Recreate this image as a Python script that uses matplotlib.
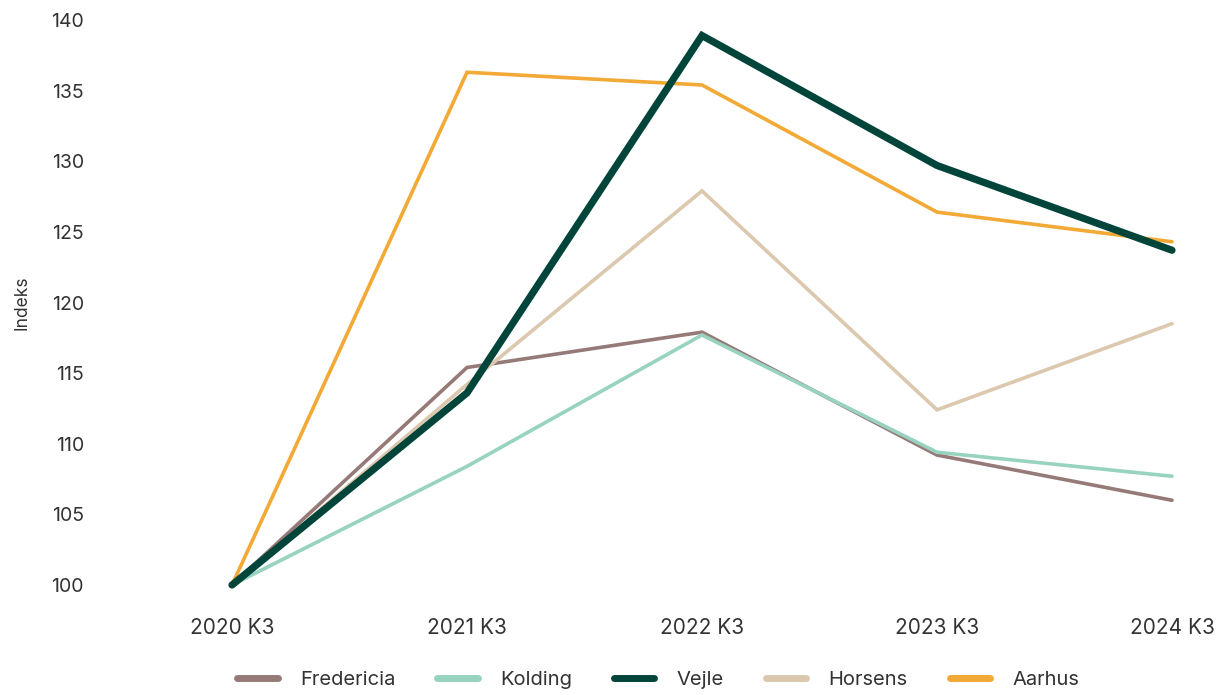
import matplotlib
matplotlib.use("Agg")
import matplotlib.pyplot as plt

categories = ["2020 K3", "2021 K3", "2022 K3", "2023 K3", "2024 K3"]
fredericia = [100, 115.4, 117.9, 109.2, 106.0]
kolding = [100, 108.4, 117.7, 109.4, 107.7]
vejle = [100, 113.6, 138.9, 129.7, 123.7]
horsens = [100, 114.2, 127.9, 112.4, 118.5]
aarhus = [100, 136.3, 135.4, 126.4, 124.3]
yticks = [100, 105, 110, 115, 120, 125, 130, 135, 140]

series = [
    ("Fredericia", fredericia, "#967a78", 2.6),
    ("Kolding", kolding, "#98d3c0", 2.6),
    ("Vejle", vejle, "#00443a", 5.2),
    ("Horsens", horsens, "#dbc8ae", 2.6),
    ("Aarhus", aarhus, "#f2a935", 2.6),
]

plt.rcParams['font.family'] = ['Inter', 'DejaVu Sans']
fig = plt.figure(figsize=(12.26, 6.95), dpi=100)
ax = fig.add_axes([120/1226, 1-585/695, 1080/1226, 565/695])

x = list(range(len(categories)))
zorders = {"Vejle": 5, "Aarhus": 4}
for name, vals, col, lw in series:
    ax.plot(x, vals, color=col, lw=lw, label=name, solid_capstyle="round",
            solid_joinstyle="miter", clip_on=False, zorder=zorders.get(name, 3))

ax.set_xlim(-112/235, 968/235)
ax.set_ylim(100, 140)
ax.set_yticks(yticks)
ax.set_xticks(x)
ax.set_xticklabels(categories)
for s in ax.spines.values():
    s.set_visible(False)
ax.tick_params(length=0, colors="#333333")
ax.tick_params(axis="y", pad=26, labelsize=14)
ax.tick_params(axis="x", pad=24, labelsize=15)
ax.set_ylabel("Indeks", fontsize=12.5, color="#333333")
ax.yaxis.set_label_coords(-0.083, 0.5)

leg = fig.legend(loc="lower center", bbox_to_anchor=(0.537, -0.018), ncol=5, frameon=False,
                 fontsize=14.5, handlelength=2.0, handletextpad=1.1, columnspacing=2.1)
for t in leg.get_texts():
    t.set_color("#333333")
for h in leg.legend_handles:
    h.set_linewidth(5)
    h.set_solid_capstyle("round")

fig.savefig("out.png", dpi=100)
